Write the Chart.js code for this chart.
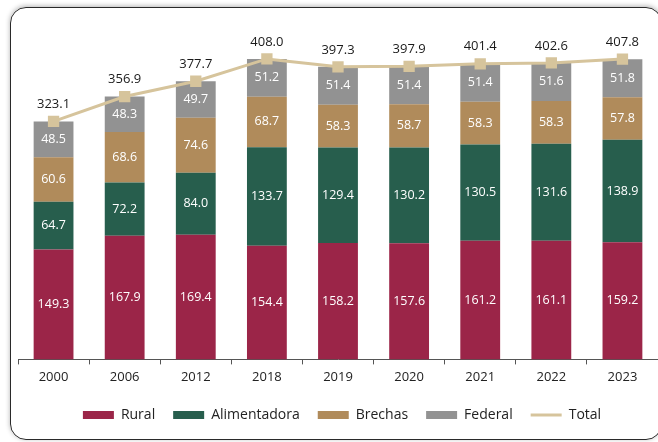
<!DOCTYPE html>
<html><head><meta charset="utf-8">
<script src="https://cdn.jsdelivr.net/npm/chart.js@4/dist/chart.umd.min.js"></script>
<style>
html,body{margin:0;padding:0;background:#fff;}
#wrap{position:relative;width:658px;height:442px;overflow:hidden;background:#fff;}
#frame{position:absolute;left:10px;top:7px;width:650px;height:431px;border:1.5px solid #2a2a2a;border-radius:16px;box-shadow:0 -1px 5px rgba(0,0,0,0.3);}
canvas{position:absolute;left:0;top:0;}
</style></head><body>
<div id="wrap"><div id="frame"></div><canvas id="c" width="666" height="442"></canvas></div>
<script>
const years = ['2000','2006','2012','2018','2019','2020','2021','2022','2023'];
const rural = [149.3,167.9,169.4,154.4,158.2,157.6,161.2,161.1,159.2];
const alimentadora = [64.7,72.2,84.0,133.7,129.4,130.2,130.5,131.6,138.9];
const brechas = [60.6,68.6,74.6,68.7,58.3,58.7,58.3,58.3,57.8];
const federal = [48.5,48.3,49.7,51.2,51.4,51.4,51.4,51.6,51.8];
const total = [323.1,356.9,377.7,408.0,397.3,397.9,401.4,402.6,407.8];

const FONT = '"Open Sans", "DejaVu Sans", sans-serif';

const valueLabels = {
  id: 'valueLabels',
  afterDatasetsDraw(chart) {
    const ctx = chart.ctx;
    ctx.save();
    ctx.textAlign = 'center';
    ctx.textBaseline = 'middle';
    chart.data.datasets.forEach((ds, i) => {
      const meta = chart.getDatasetMeta(i);
      if (meta.hidden) return;
      meta.data.forEach((el, j) => {
        const v = ds.data[j];
        if (ds.type === 'line') {
          ctx.fillStyle = '#1a1a1a';
          ctx.font = '13px ' + FONT;
          ctx.fillText(v.toFixed(1), el.x, el.y - 17);
        } else {
          ctx.fillStyle = '#ffffff';
          ctx.font = '12.5px ' + FONT;
          ctx.fillText(v.toFixed(1), el.x, (el.y + el.base) / 2);
        }
      });
    });
    ctx.restore();
  }
};

const barCommon = { type: 'bar', barPercentage: 0.56, categoryPercentage: 1.0, order: 1, stack: 'main', borderWidth: 0 };

new Chart(document.getElementById('c'), {
  data: {
    labels: years,
    datasets: [
      Object.assign({ label: 'Rural', data: rural, backgroundColor: '#9b2548' }, barCommon),
      Object.assign({ label: 'Alimentadora', data: alimentadora, backgroundColor: '#275e4d' }, barCommon),
      Object.assign({ label: 'Brechas', data: brechas, backgroundColor: '#b08b5b' }, barCommon),
      Object.assign({ label: 'Federal', data: federal, backgroundColor: '#929292' }, barCommon),
      { type: 'line', label: 'Total', data: total, borderColor: '#d6c49c', backgroundColor: '#d6c49c',
        borderWidth: 3, pointStyle: 'rect', pointRadius: 8, pointHoverRadius: 8, pointBorderWidth: 0,
        order: 0, stack: 'total', tension: 0 }
    ]
  },
  options: {
    responsive: false,
    animation: false,
    layout: { padding: { left: 18, right: 0, top: 28, bottom: 10 } },
    scales: {
      x: {
        stacked: true,
        offset: true,
        grid: { offset: true, drawOnChartArea: false, drawTicks: true, tickLength: 5, color: '#555' },
        border: { display: true, color: '#555', width: 1 },
        ticks: { color: '#222', font: { family: FONT, size: 13 }, padding: 5 }
      },
      y: {
        stacked: true,
        display: false,
        min: 0,
        max: 450
      }
    },
    plugins: {
      legend: {
        position: 'bottom',
        labels: {
          usePointStyle: true,
          pointStyleWidth: 31,
          boxHeight: 8,
          padding: 18,
          color: '#222',
          font: { family: FONT, size: 14 },
          sort: (a, b) => a.datasetIndex - b.datasetIndex,
          generateLabels(chart) {
            return chart.data.datasets.map((ds, i) => ({
              text: ds.label,
              fillStyle: ds.backgroundColor,
              strokeStyle: ds.type === 'line' ? ds.borderColor : ds.backgroundColor,
              lineWidth: ds.type === 'line' ? 3 : 0,
              pointStyle: ds.type === 'line' ? 'line' : 'rect',
              hidden: !chart.isDatasetVisible(i),
              datasetIndex: i,
              fontColor: '#222'
            }));
          }
        }
      },
      tooltip: { enabled: false }
    }
  },
  plugins: [valueLabels]
});
</script>
</body></html>
